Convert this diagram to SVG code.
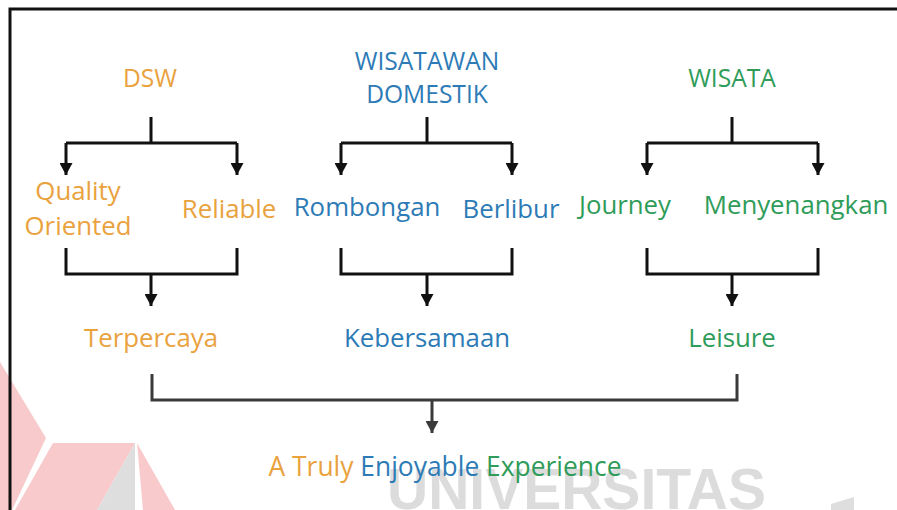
<svg xmlns="http://www.w3.org/2000/svg" width="897" height="510" viewBox="0 0 897 510">
<style>
.t{font-family:"Open Sans","Liberation Sans",sans-serif;font-size:25.8px;text-anchor:middle}
.h{font-size:24.6px}
.o{fill:#E9A23E}.b{fill:#2D7BB6}.g{fill:#2F9C5A}
.c{fill:none;stroke:#111;stroke-width:3}
.f{fill:none;stroke:#3a3a3a;stroke-width:3}
.wm{font-family:"Liberation Sans",Arial,sans-serif;font-weight:bold;font-size:57px;fill:#dcdcdc}
</style>
<defs>
<marker id="ah" markerUnits="userSpaceOnUse" markerWidth="13" markerHeight="13" viewBox="0 0 12 12" refX="11" refY="6" orient="auto">
<path d="M0,0 L11,6 L0,12 Z" fill="#111"/>
</marker>
<marker id="ah2" markerUnits="userSpaceOnUse" markerWidth="13" markerHeight="13" viewBox="0 0 12 12" refX="11" refY="6" orient="auto">
<path d="M0,0 L11,6 L0,12 Z" fill="#3a3a3a"/>
</marker>
</defs>
<rect width="897" height="510" fill="#fff"/>
<g id="watermark">
<polygon points="0,362 46,438 12,510 0,510" fill="#f8cacb"/>
<polygon points="53,443 135,443 97,510 15,510" fill="#f8cacb"/>
<polygon points="135,443 97,510 135,510" fill="#dedede"/>
<polygon points="137,443 175,510 143,510" fill="#f8cacb"/>
<polygon points="831,504 854,497 854,510 831,510" fill="#dedede"/>
<text class="wm" x="387" y="509">UNIVERSITAS</text>
</g>
<g id="frame">
<path d="M10,510 V9 H897" fill="none" stroke="#111" stroke-width="3"/>
</g>
<g id="connectors">
<path class="c" d="M151,117 V143 M66,143 H237"/>
<path class="c" d="M66,143 V175" marker-end="url(#ah)"/>
<path class="c" d="M237,143 V175" marker-end="url(#ah)"/>
<path class="c" d="M427,117 V143 M341,143 H512"/>
<path class="c" d="M341,143 V175" marker-end="url(#ah)"/>
<path class="c" d="M512,143 V175" marker-end="url(#ah)"/>
<path class="c" d="M732,117 V143 M647,143 H818"/>
<path class="c" d="M647,143 V175" marker-end="url(#ah)"/>
<path class="c" d="M818,143 V175" marker-end="url(#ah)"/>
<path class="c" d="M66,248 V274 H237 V248"/>
<path class="c" d="M151,274 V306" marker-end="url(#ah)"/>
<path class="c" d="M341,248 V274 H512 V248"/>
<path class="c" d="M427,274 V306" marker-end="url(#ah)"/>
<path class="c" d="M647,248 V274 H818 V248"/>
<path class="c" d="M732,274 V306" marker-end="url(#ah)"/>
<path class="f" d="M152,374 V400 H737 V374"/>
<path class="f" d="M432,400 V433" marker-end="url(#ah2)"/>
</g>
<g id="n-dsw"><text class="t h o" x="150" y="87">DSW</text></g>
<g id="n-wisatawan"><text class="t h b" x="427" y="70">WISATAWAN</text><text class="t h b" x="427" y="103">DOMESTIK</text></g>
<g id="n-wisata"><text class="t h g" x="732" y="87">WISATA</text></g>
<g id="n-quality"><text class="t o" x="78" y="200">Quality</text><text class="t o" x="78" y="235">Oriented</text></g>
<g id="n-reliable"><text class="t o" x="229" y="218">Reliable</text></g>
<g id="n-rombongan"><text class="t b" x="367" y="216">Rombongan</text></g>
<g id="n-berlibur"><text class="t b" x="511" y="218">Berlibur</text></g>
<g id="n-journey"><text class="t g" x="625" y="214">Journey</text></g>
<g id="n-menyenangkan"><text class="t g" x="796" y="214">Menyenangkan</text></g>
<g id="n-terpercaya"><text class="t o" x="151" y="347">Terpercaya</text></g>
<g id="n-kebersamaan"><text class="t b" x="427" y="347">Kebersamaan</text></g>
<g id="n-leisure"><text class="t g" x="732" y="347">Leisure</text></g>
<g id="n-final"><text class="t" x="445" y="476" style="font-size:26.4px"><tspan class="o">A Truly </tspan><tspan class="b">Enjoyable </tspan><tspan class="g">Experience</tspan></text></g>
</svg>
